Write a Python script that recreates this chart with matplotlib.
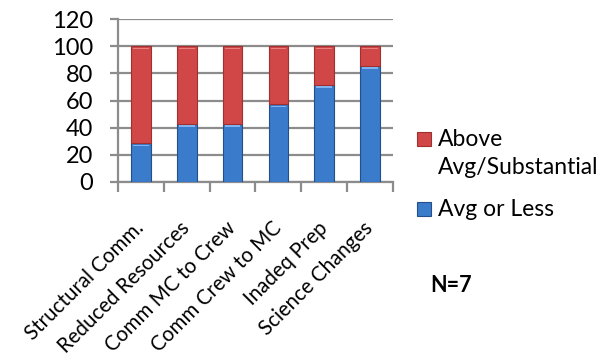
import matplotlib.pyplot as plt
from matplotlib.patches import Rectangle
import numpy as np

plt.rcParams['font.family'] = ['Lato', 'DejaVu Sans']

categories = ["Structural Comm.", "Reduced Resources", "Comm MC to Crew",
              "Comm Crew to MC", "Inadeq Prep", "Science Changes"]
avg_or_less = [28.6, 42.9, 42.9, 57.1, 71.4, 85.7]
above_avg = [71.4, 57.1, 57.1, 42.9, 28.6, 14.3]
n_label = "N=7"

blue, blue_edge = "#3b7bcb", "#24508a"
red, red_edge = "#d14747", "#a03030"
grid_col = "#8c8c8c"

fig = plt.figure(figsize=(6.03, 3.6), dpi=100)
ax = fig.add_axes([118 / 603, 178 / 360, 275 / 603, 163 / 360])

x = np.arange(len(categories))
width = 0.43
ax.bar(x, avg_or_less, width, color=blue, edgecolor=blue_edge, linewidth=0.8, zorder=3)
ax.bar(x, above_avg, width, bottom=avg_or_less, color=red, edgecolor=red_edge,
       linewidth=0.8, zorder=3)

# light strip along the top of each segment
ax.bar(x, [1.2] * len(x), width * 0.8, bottom=np.array(avg_or_less) - 2.2,
       color="#7fb2ee", linewidth=0, zorder=4)
ax.bar(x, [1.2] * len(x), width * 0.8, bottom=np.array(avg_or_less) + np.array(above_avg) - 2.2,
       color="#e88080", linewidth=0, zorder=4)

ax.set_xlim(-0.5, len(categories) - 0.5)
ax.set_ylim(0, 120)
ax.set_yticks(range(0, 121, 20))
ax.yaxis.grid(True, color=grid_col, linewidth=1.6, zorder=0)

ax.set_xticks(x)
ax.set_xticklabels(categories, rotation=45, ha="right", va="center",
                   rotation_mode="anchor", fontsize=14.8)
ax.set_xticks(np.arange(-0.5, len(categories)), minor=True)
ax.tick_params(axis="x", which="major", length=0, pad=31)
ax.tick_params(axis="x", which="minor", length=7, width=1.6, color=grid_col, direction="out")
ax.tick_params(axis="y", length=6, width=1.6, color=grid_col, labelsize=17, pad=12)

for side in ["top", "right"]:
    ax.spines[side].set_visible(False)
for side in ["left", "bottom"]:
    ax.spines[side].set_color(grid_col)
    ax.spines[side].set_linewidth(1.6)

# legend drawn by hand, red entry on top
def legend_entry(y_box, face, edge, lines, y_text):
    fig.add_artist(Rectangle((417 / 603, 1 - (y_box + 7) / 360), 14 / 603, 14 / 360,
                             transform=fig.transFigure, facecolor=face,
                             edgecolor=edge, linewidth=0.8))
    for i, line in enumerate(lines):
        fig.text(438 / 603, 1 - (y_text + i * 29) / 360, line, fontsize=16.5,
                 va="center", ha="left")

legend_entry(138.5, red, red_edge, ["Above", "Avg/Substantial"], 139)
legend_entry(208.5, blue, blue_edge, ["Avg or Less"], 209)

fig.text(430 / 603, 1 - 285 / 360, n_label, fontsize=15.5, fontweight="bold",
         va="center", ha="left")

fig.savefig("out.png", dpi=100)
